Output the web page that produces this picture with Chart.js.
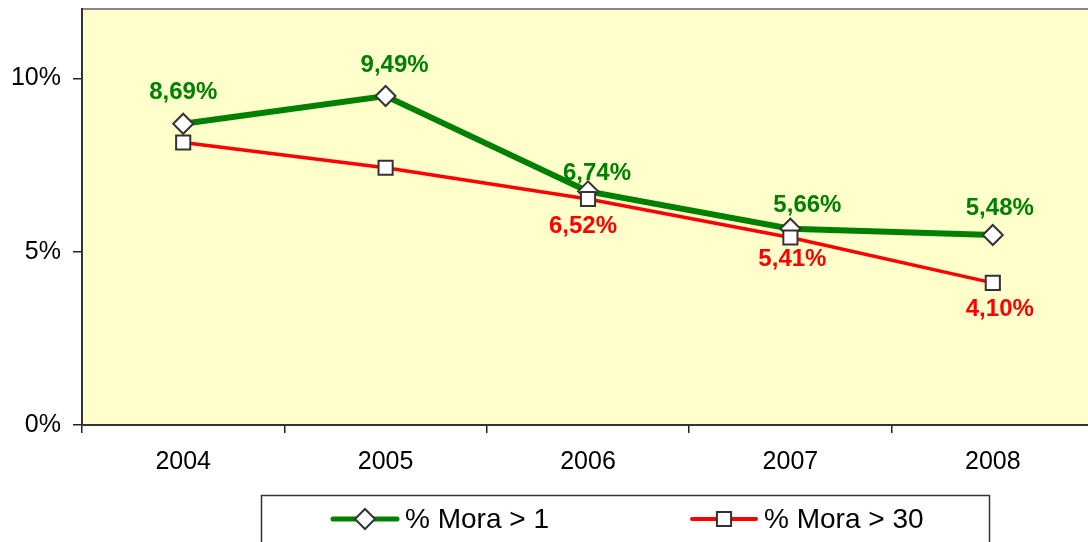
<!DOCTYPE html>
<html>
<head>
<meta charset="utf-8">
<script src="https://cdn.jsdelivr.net/npm/chart.js@4.4.0/dist/chart.umd.min.js"></script>
<style>
  html, body { margin: 0; padding: 0; background: #fff; overflow: hidden; }
</style>
</head>
<body>
<canvas id="chart" width="1088" height="542"></canvas>
<script>
// data
const years = ['2004', '2005', '2006', '2007', '2008'];
const moraOver1 = [8.69, 9.49, 6.74, 5.66, 5.48];
const moraOver30 = [8.15, 7.42, 6.52, 5.41, 4.10];
const yTicks = [0, 5, 10];
const seriesNames = ['% Mora > 1', '% Mora > 30'];

const FONT = "'Liberation Sans', Arial, sans-serif";

const fmt = v => v.toFixed(2).replace('.', ',') + '%';

// where each value label sits relative to its point (null = no label)
const labelShift = [
  [[0, -31], [9, -31], [9, -18], [17, -23], [7, -27]],
  [null, null, [-5, 27], [2, 22], [7, 27]]
];

// the plot area in the original runs a few px past the right edge
const widenPlot = {
  id: 'widenPlot',
  afterLayout(chart) {
    const extra = 6;
    const x = chart.scales.x;
    x.right += extra;
    x.width += extra;
    x.configure();
    chart.chartArea.right += extra;
    chart.chartArea.width += extra;
  }
};

const plotBackground = {
  id: 'plotBackground',
  beforeDraw(chart) {
    const { ctx, chartArea: a } = chart;
    ctx.save();
    ctx.fillStyle = '#FFFFCC';
    ctx.fillRect(a.left, a.top, a.right - a.left, a.bottom - a.top);
    ctx.strokeStyle = '#888';
    ctx.lineWidth = 2;
    ctx.beginPath();
    ctx.moveTo(a.left, a.top);
    ctx.lineTo(a.right, a.top);
    ctx.stroke();
    ctx.restore();
  }
};

const valueLabels = {
  id: 'valueLabels',
  afterDatasetsDraw(chart) {
    const ctx = chart.ctx;
    ctx.save();
    ctx.font = 'bold 24px ' + FONT;
    ctx.textAlign = 'center';
    ctx.textBaseline = 'middle';
    chart.data.datasets.forEach((ds, i) => {
      const meta = chart.getDatasetMeta(i);
      meta.data.forEach((pt, j) => {
        const s = labelShift[i][j];
        if (!s) return;
        ctx.fillStyle = ds.borderColor;
        ctx.fillText(fmt(ds.data[j]), pt.x + s[0], pt.y + s[1]);
      });
    });
    ctx.restore();
  }
};

// boxed legend with line + marker like the original
const boxLegend = {
  id: 'boxLegend',
  afterDraw(chart) {
    const ctx = chart.ctx;
    const itemX = [333, 692];
    const y = 519;
    ctx.save();
    ctx.strokeStyle = '#333';
    ctx.lineWidth = 1.5;
    ctx.strokeRect(261.5, 495.5, 728, 70);
    chart.data.datasets.forEach((ds, i) => {
      const x0 = itemX[i];
      ctx.strokeStyle = ds.borderColor;
      ctx.lineWidth = i === 0 ? 5 : 4;
      ctx.lineCap = 'round';
      ctx.beginPath();
      ctx.moveTo(x0, y);
      ctx.lineTo(x0 + 64, y);
      ctx.stroke();
      ctx.fillStyle = '#fff';
      ctx.strokeStyle = ds.pointBorderColor;
      ctx.lineWidth = 2;
      Chart.helpers.drawPoint(ctx, {
        pointStyle: ds.pointStyle,
        radius: ds.pointRadius,
        rotation: 0,
        borderWidth: 2
      }, x0 + 32, y);
      ctx.fillStyle = '#000';
      ctx.font = '28px ' + FONT;
      ctx.textAlign = 'left';
      ctx.textBaseline = 'middle';
      ctx.fillText(ds.label, x0 + 72, y + 1);
    });
    ctx.restore();
  }
};

new Chart(document.getElementById('chart'), {
  type: 'line',
  data: {
    labels: years,
    datasets: [
      {
        label: seriesNames[0],
        data: moraOver1,
        borderColor: '#008000',
        borderWidth: 6,
        tension: 0,
        pointStyle: 'rectRot',
        pointRadius: 10,
        pointHoverRadius: 10,
        pointBorderWidth: 2,
        pointBorderColor: '#333',
        pointBackgroundColor: '#fff',
        order: 1
      },
      {
        label: seriesNames[1],
        data: moraOver30,
        borderColor: '#FF0000',
        borderWidth: 3.5,
        tension: 0,
        pointStyle: 'rect',
        pointRadius: 10,
        pointHoverRadius: 10,
        pointBorderWidth: 2,
        pointBorderColor: '#333',
        pointBackgroundColor: '#fff',
        order: 0
      }
    ]
  },
  options: {
    responsive: false,
    animation: false,
    events: [],
    layout: { autoPadding: false, padding: { top: 9, right: 0, bottom: 0, left: 0 } },
    plugins: {
      legend: { display: false },
      tooltip: { enabled: false }
    },
    scales: {
      x: {
        offset: true,
        grid: { offset: true, drawOnChartArea: false, drawTicks: true, tickLength: 8, tickColor: '#222', lineWidth: 1.5 },
        border: { display: true, color: '#333', width: 2 },
        ticks: { color: '#000', font: { family: FONT, size: 25 }, padding: 14, maxRotation: 0 },
        afterFit(s) { s.height = 117; s.paddingLeft = 0; s.paddingRight = 0; }
      },
      y: {
        min: 0,
        max: 12,
        afterBuildTicks(s) { s.ticks = yTicks.map(v => ({ value: v })); },
        grid: { drawOnChartArea: false, drawTicks: true, tickLength: 9, tickColor: '#222', lineWidth: 1.5 },
        border: { display: true, color: '#333', width: 2 },
        ticks: { color: '#000', font: { family: FONT, size: 25 }, padding: 12, callback: v => v + '%' },
        afterFit(s) { s.width = 82; s.paddingTop = 0; s.paddingBottom = 0; }
      }
    }
  },
  plugins: [widenPlot, plotBackground, valueLabels, boxLegend]
});
</script>
</body>
</html>
